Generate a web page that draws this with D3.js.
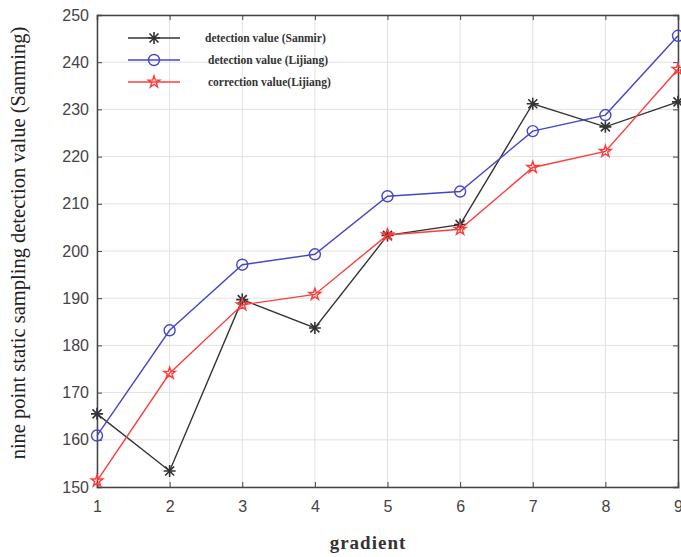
<!DOCTYPE html>
<html>
<head>
<meta charset="utf-8">
<script src="https://cdn.jsdelivr.net/npm/d3@7"></script>
<style>
  body { margin: 0; background: #fff; }
  .tick text { font-family: "Liberation Sans", Arial, sans-serif; font-size: 16px; fill: #444; }
</style>
</head>
<body>
<div id="chart"></div>
<script>
const gradients = [1, 2, 3, 4, 5, 6, 7, 8, 9];
const sanmin = [165.5, 153.4, 189.7, 183.7, 203.3, 205.6, 231.2, 226.3, 231.6];
const lijiang = [160.9, 183.2, 197.1, 199.3, 211.6, 212.6, 225.4, 228.8, 245.6];
const corrected = [151.3, 174.1, 188.6, 190.8, 203.4, 204.6, 217.7, 221.1, 238.5];
const yTicks = [150, 160, 170, 180, 190, 200, 210, 220, 230, 240, 250];
const legendLabels = ["detection value (Sanmir)", "detection value (Lijiang)", "correction value(Lijiang)"];

const width = 681;
const height = 557;
const margin = { top: 15, right: 3, bottom: 70, left: 97 };

const svg = d3.select("#chart")
  .append("svg")
  .attr("width", width)
  .attr("height", height);

const xScale = d3.scaleLinear()
  .domain([1, 9])
  .range([margin.left, width - margin.right]);

const yScale = d3.scaleLinear()
  .domain([150, 250])
  .range([height - margin.bottom, margin.top]);

// grid
svg.append("g")
  .selectAll("line")
  .data(gradients)
  .enter()
  .append("line")
  .attr("x1", d => xScale(d))
  .attr("x2", d => xScale(d))
  .attr("y1", margin.top)
  .attr("y2", height - margin.bottom)
  .attr("stroke", "#e2e2e2");

svg.append("g")
  .selectAll("line")
  .data(yTicks)
  .enter()
  .append("line")
  .attr("x1", margin.left)
  .attr("x2", width - margin.right)
  .attr("y1", d => yScale(d))
  .attr("y2", d => yScale(d))
  .attr("stroke", "#e2e2e2");

// axes
svg.append("g")
  .attr("transform", `translate(0, ${height - margin.bottom})`)
  .call(d3.axisBottom(xScale).tickValues(gradients).tickSize(-5).tickPadding(14).tickFormat(d3.format("d")));

svg.append("g")
  .attr("transform", `translate(${margin.left}, 0)`)
  .call(d3.axisLeft(yScale).tickValues(yTicks).tickSize(-5).tickPadding(8));

svg.append("g")
  .attr("transform", `translate(0, ${margin.top})`)
  .call(d3.axisTop(xScale).tickValues(gradients).tickSize(-5).tickFormat(""));

svg.append("g")
  .attr("transform", `translate(${width - margin.right}, 0)`)
  .call(d3.axisRight(yScale).tickValues(yTicks).tickSize(-5).tickFormat(""));

svg.selectAll(".domain").attr("stroke", "#444").attr("stroke-width", 1.5);
svg.selectAll(".tick line").attr("stroke", "#444");

// series
const series = [
  { values: sanmin, color: "#333333", marker: "asterisk" },
  { values: lijiang, color: "#4646c8", marker: "circle" },
  { values: corrected, color: "#ff3c3c", marker: "star" }
];

const line = d3.line()
  .x((d, i) => xScale(gradients[i]))
  .y(d => yScale(d));

function drawMarker(g, type, color, x, y) {
  if (type === "circle") {
    g.append("circle")
      .attr("cx", x).attr("cy", y).attr("r", 5.5)
      .attr("fill", "none").attr("stroke", color).attr("stroke-width", 1.4);
  } else if (type === "star") {
    g.append("path")
      .attr("transform", `translate(${x},${y})`)
      .attr("d", d3.symbol().type(d3.symbolStar).size(42))
      .attr("fill", "none").attr("stroke", color).attr("stroke-width", 1.4);
  } else {
    g.append("path")
      .attr("transform", `translate(${x},${y})`)
      .attr("d", "M-6,0L6,0M0,-6L0,6M-4.5,-4.5L4.5,4.5M-4.5,4.5L4.5,-4.5")
      .attr("stroke", color).attr("stroke-width", 1.6);
  }
}

series.forEach(function(s) {
  svg.append("path")
    .datum(s.values)
    .attr("fill", "none")
    .attr("stroke", s.color)
    .attr("stroke-width", 1.4)
    .attr("d", line);
  const g = svg.append("g");
  s.values.forEach(function(v, i) {
    drawMarker(g, s.marker, s.color, xScale(gradients[i]), yScale(v));
  });
});

// legend
series.forEach(function(s, i) {
  const ly = 38 + i * 22;
  svg.append("line")
    .attr("x1", 128).attr("x2", 180)
    .attr("y1", ly).attr("y2", ly)
    .attr("stroke", s.color).attr("stroke-width", 1.4);
  drawMarker(svg, s.marker, s.color, 154, ly);
  svg.append("text")
    .attr("x", i === 0 ? 205 : 208)
    .attr("y", ly + 4)
    .style("font-family", "'Liberation Serif', serif")
    .style("font-size", "11.5px")
    .style("font-weight", "bold")
    .style("fill", "#333")
    .text(legendLabels[i]);
});

// axis labels
svg.append("text")
  .attr("x", 368)
  .attr("y", 549)
  .attr("text-anchor", "middle")
  .style("font-family", "'Liberation Serif', serif")
  .style("font-size", "19px")
  .style("font-weight", "bold")
  .style("letter-spacing", "1px")
  .style("fill", "#333")
  .text("gradient");

svg.append("text")
  .attr("transform", "translate(25, 243) rotate(-90)")
  .attr("text-anchor", "middle")
  .style("font-family", "'Liberation Serif', serif")
  .style("font-size", "20.5px")
  .style("fill", "#222")
  .text("nine point static sampling detection value (Sanming)");
</script>
</body>
</html>
